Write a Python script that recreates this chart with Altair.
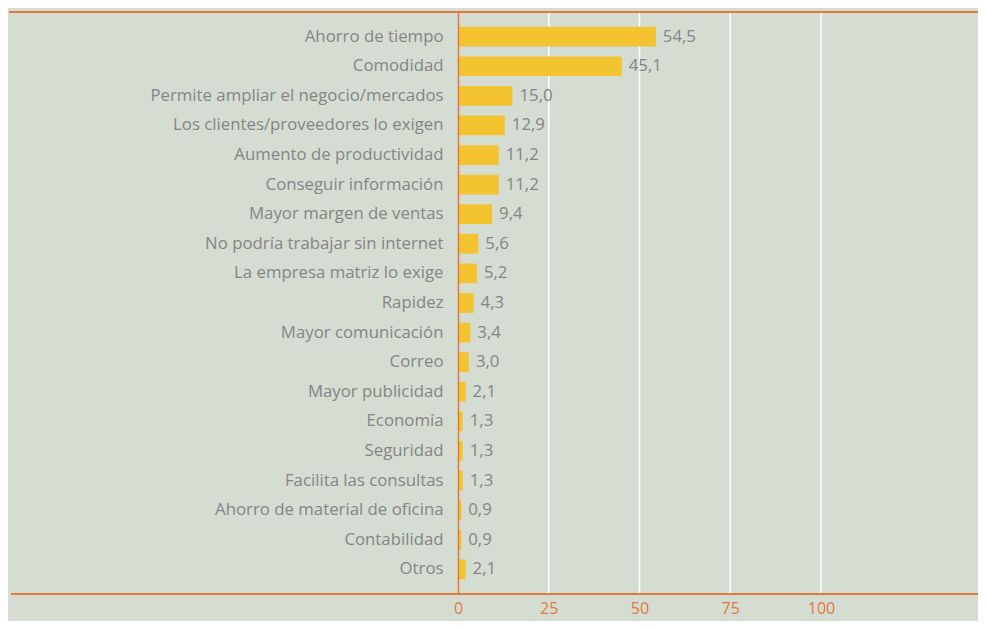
import altair as alt
import pandas as pd

categories = [
    "Ahorro de tiempo", "Comodidad", "Permite ampliar el negocio/mercados",
    "Los clientes/proveedores lo exigen", "Aumento de productividad",
    "Conseguir información", "Mayor margen de ventas",
    "No podría trabajar sin internet", "La empresa matriz lo exige",
    "Rapidez", "Mayor comunicación", "Correo", "Mayor publicidad",
    "Economía", "Seguridad", "Facilita las consultas",
    "Ahorro de material de oficina", "Contabilidad", "Otros",
]
values = [54.5, 45.1, 15.0, 12.9, 11.2, 11.2, 9.4, 5.6, 5.2, 4.3, 3.4, 3.0,
          2.1, 1.3, 1.3, 1.3, 0.9, 0.9, 2.1]
tick_values = [0, 25, 50, 75, 100]
grid_values = [25, 50, 75, 100]

df = pd.DataFrame({"cat": categories, "val": values})
df["lab"] = df["val"].map(lambda v: f"{v:.1f}".replace(".", ","))

BG = "#d5dcd2"
ORANGE = "#e07a3c"
BAR = "#f4c430"
GRAY = "#848684"
FONT = "Open Sans"
FS = 16.8

W, H = 520, 582
xscale = alt.Scale(domain=[0, 143.25], nice=False, zero=True)
yscale = alt.Scale(paddingInner=1 / 3, paddingOuter=0.5)

xaxis = alt.Axis(values=tick_values, title=None, domain=False, ticks=False,
                 grid=False, labelColor=ORANGE, labelFontSize=16,
                 labelFont=FONT, labelPadding=14, labelBaseline="middle",
                 labelFlush=False)

base = alt.Chart(df)

grid = alt.Chart(pd.DataFrame({"g": grid_values})).mark_rule(
    color="white", strokeWidth=1.5
).encode(x=alt.X("g:Q", scale=xscale, axis=xaxis))

bars = base.mark_bar(color=BAR).encode(
    x=alt.X("val:Q", scale=xscale, axis=xaxis),
    y=alt.Y("cat:N", sort=categories, scale=yscale,
            axis=alt.Axis(title=None, ticks=False, domain=True, domainColor=ORANGE,
                          domainWidth=1.5, labelColor=GRAY, labelFontSize=FS,
                          labelFont=FONT, labelPadding=15, labelLimit=440, zindex=1)),
)

text = base.mark_text(align="left", baseline="middle", dx=7, color=GRAY,
                      fontSize=FS, font=FONT).encode(
    x=alt.X("val:Q", scale=xscale),
    y=alt.Y("cat:N", sort=categories, scale=yscale),
    text="lab:N",
)

one = pd.DataFrame({"a": [0]})
top_line = alt.Chart(one).mark_rule(color=ORANGE, strokeWidth=2).encode(
    x=alt.value(-449), x2=alt.value(W), y=alt.value(0))
bottom_line = alt.Chart(one).mark_rule(color=ORANGE, strokeWidth=2).encode(
    x=alt.value(-447), x2=alt.value(W), y=alt.value(H))

chart = alt.layer(grid, bars, text, top_line, bottom_line).properties(
    width=W, height=H, background=BG,
    autosize=alt.AutoSizeParams(type="none"),
    padding={"left": 450, "top": 4, "right": 0, "bottom": 27},
).configure_view(stroke=None)

chart.save("out.html", embed_options={"renderer": "svg", "actions": False})
